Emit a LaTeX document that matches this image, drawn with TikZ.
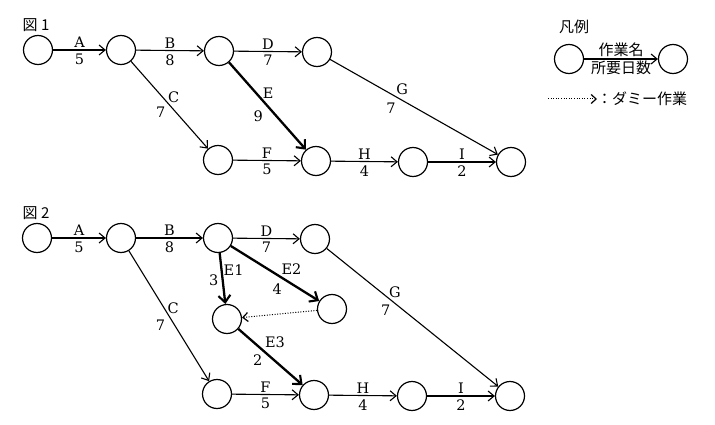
\documentclass[tikz,border=0pt]{standalone}
\usepackage{fontspec}
\newfontfamily\jp{Noto Sans CJK JP}
\newfontfamily\lat{DejaVu Serif}
\usetikzlibrary{arrows.meta}
\begin{document}
\begin{tikzpicture}[x=1pt,y=-1pt,
  ev/.style={circle,draw,line width=1.2pt,minimum size=29pt,inner sep=0pt},
  arr/.style={line width=1.1pt,-{Straight Barb[length=6pt,width=10pt,line width=1.1pt]}},
  crit/.style={line width=2.3pt,-{Straight Barb[length=7pt,width=12pt,line width=2.1pt]}},
  dum/.style={line width=1pt,dash pattern=on 1pt off 1.6pt,-{Straight Barb[length=5pt,width=9pt,line width=1.2pt]}},
  lab/.style={font=\lat\fontsize{14.5}{16}\selectfont,inner sep=1.2pt},
  jlab/.style={font=\jp\fontsize{15}{17}\selectfont,inner sep=1.5pt},
  ab/.style={lab,above=0.5pt},
  be/.style={lab,below=2pt},
]
\useasboundingbox (0,0) rectangle (715,425);
\fill[white] (0,0) rectangle (715,425);
% ---------- Figure 1 ----------
\node[jlab] (t1) at (36,25) {図 1};
\node[ev] (a1) at (38,50) {};
\node[ev] (a2) at (121,50) {};
\node[ev] (a3) at (219,51) {};
\node[ev] (a4) at (317,52) {};
\node[ev] (a5) at (218,160) {};
\node[ev] (a6) at (316,161) {};
\node[ev] (a7) at (413,162) {};
\node[ev] (a8) at (511,162) {};
\draw[arr] (a1) -- (a2) node[ab,midway]{A} node[be,midway]{5};
\draw[arr] (a2) -- (a3) node[ab,midway]{B} node[be,midway]{8};
\draw[arr] (a3) -- (a4) node[ab,midway]{D} node[be,midway]{7};
\draw[arr] (a2) -- (a5) node[lab,pos=0.41,xshift=11pt]{C} node[lab,pos=0.58,xshift=-15pt]{7};
\draw[crit] (a3) -- (a6) node[lab,pos=0.353,xshift=12pt]{E} node[lab,pos=0.612,xshift=-18pt]{9};
\draw[arr] (a4) -- (a8) node[lab,pos=0.429,yshift=11pt]{G} node[lab,pos=0.363,yshift=-14pt]{7};
\draw[arr] (a5) -- (a6) node[ab,midway]{F} node[be,midway]{5};
\draw[arr] (a6) -- (a7) node[ab,midway]{H} node[be,midway]{4};
\draw[arr] (a7) -- (a8) node[ab,midway]{I} node[be,midway]{2};
% ---------- Legend ----------
\node[jlab] (lt) at (574,27) {凡例};
\node[ev] (l1) at (569,59) {};
\node[ev] (l2) at (673,59) {};
\draw[arr] (l1) -- (l2) node[jlab,midway,above=0pt]{作業名} node[jlab,midway,below=0pt]{所要日数};
\coordinate (d1) at (548,99);
\coordinate (d2) at (597,99);
\draw[dum] (d1) -- (d2);
\node[jlab,anchor=west,inner sep=0pt] (dt) at (597,99) {：ダミー作業};
% ---------- Figure 2 ----------
\node[jlab] (t2) at (36,213) {図 2};
\node[ev] (b1) at (37,238) {};
\node[ev] (b2) at (121,238) {};
\node[ev] (b3) at (218,238) {};
\node[ev] (b4) at (315,239) {};
\node[ev] (b5) at (227,319) {};
\node[ev] (b6) at (332,309) {};
\node[ev] (b7) at (217,394) {};
\node[ev] (b8) at (314,395) {};
\node[ev] (b9) at (412,396) {};
\node[ev] (b10) at (510,396) {};
\draw[arr] (b1) -- (b2) node[ab,midway]{A} node[be,midway]{5};
\draw[arr] (b2) -- (b3) node[ab,midway]{B} node[be,midway]{8};
\draw[arr] (b3) -- (b4) node[ab,midway]{D} node[be,midway]{7};
\draw[arr] (b2) -- (b7) node[lab,pos=0.44,xshift=9pt]{C} node[lab,pos=0.569,xshift=-14pt]{7};
\draw[crit] (b3) -- (b5) node[lab,pos=0.337,xshift=12pt]{E1} node[lab,pos=0.53,xshift=-9pt]{3};
\draw[crit] (b3) -- (b6) node[lab,pos=0.686,yshift=15pt]{E2} node[lab,pos=0.526,yshift=-14pt]{4};
\draw[dum] (b6) -- (b5);
\draw[crit] (b5) -- (b8) node[lab,pos=0.569,yshift=19pt]{E3} node[lab,pos=0.303,yshift=-14pt]{2};
\draw[arr] (b4) -- (b10) node[lab,pos=0.398,yshift=11pt]{G} node[lab,pos=0.344,yshift=-14pt]{7};
\draw[arr] (b7) -- (b8) node[ab,midway]{F} node[be,midway]{5};
\draw[arr] (b8) -- (b9) node[ab,midway]{H} node[be,midway]{4};
\draw[arr] (b9) -- (b10) node[ab,midway]{I} node[be,midway]{2};
\end{tikzpicture}
\end{document}
